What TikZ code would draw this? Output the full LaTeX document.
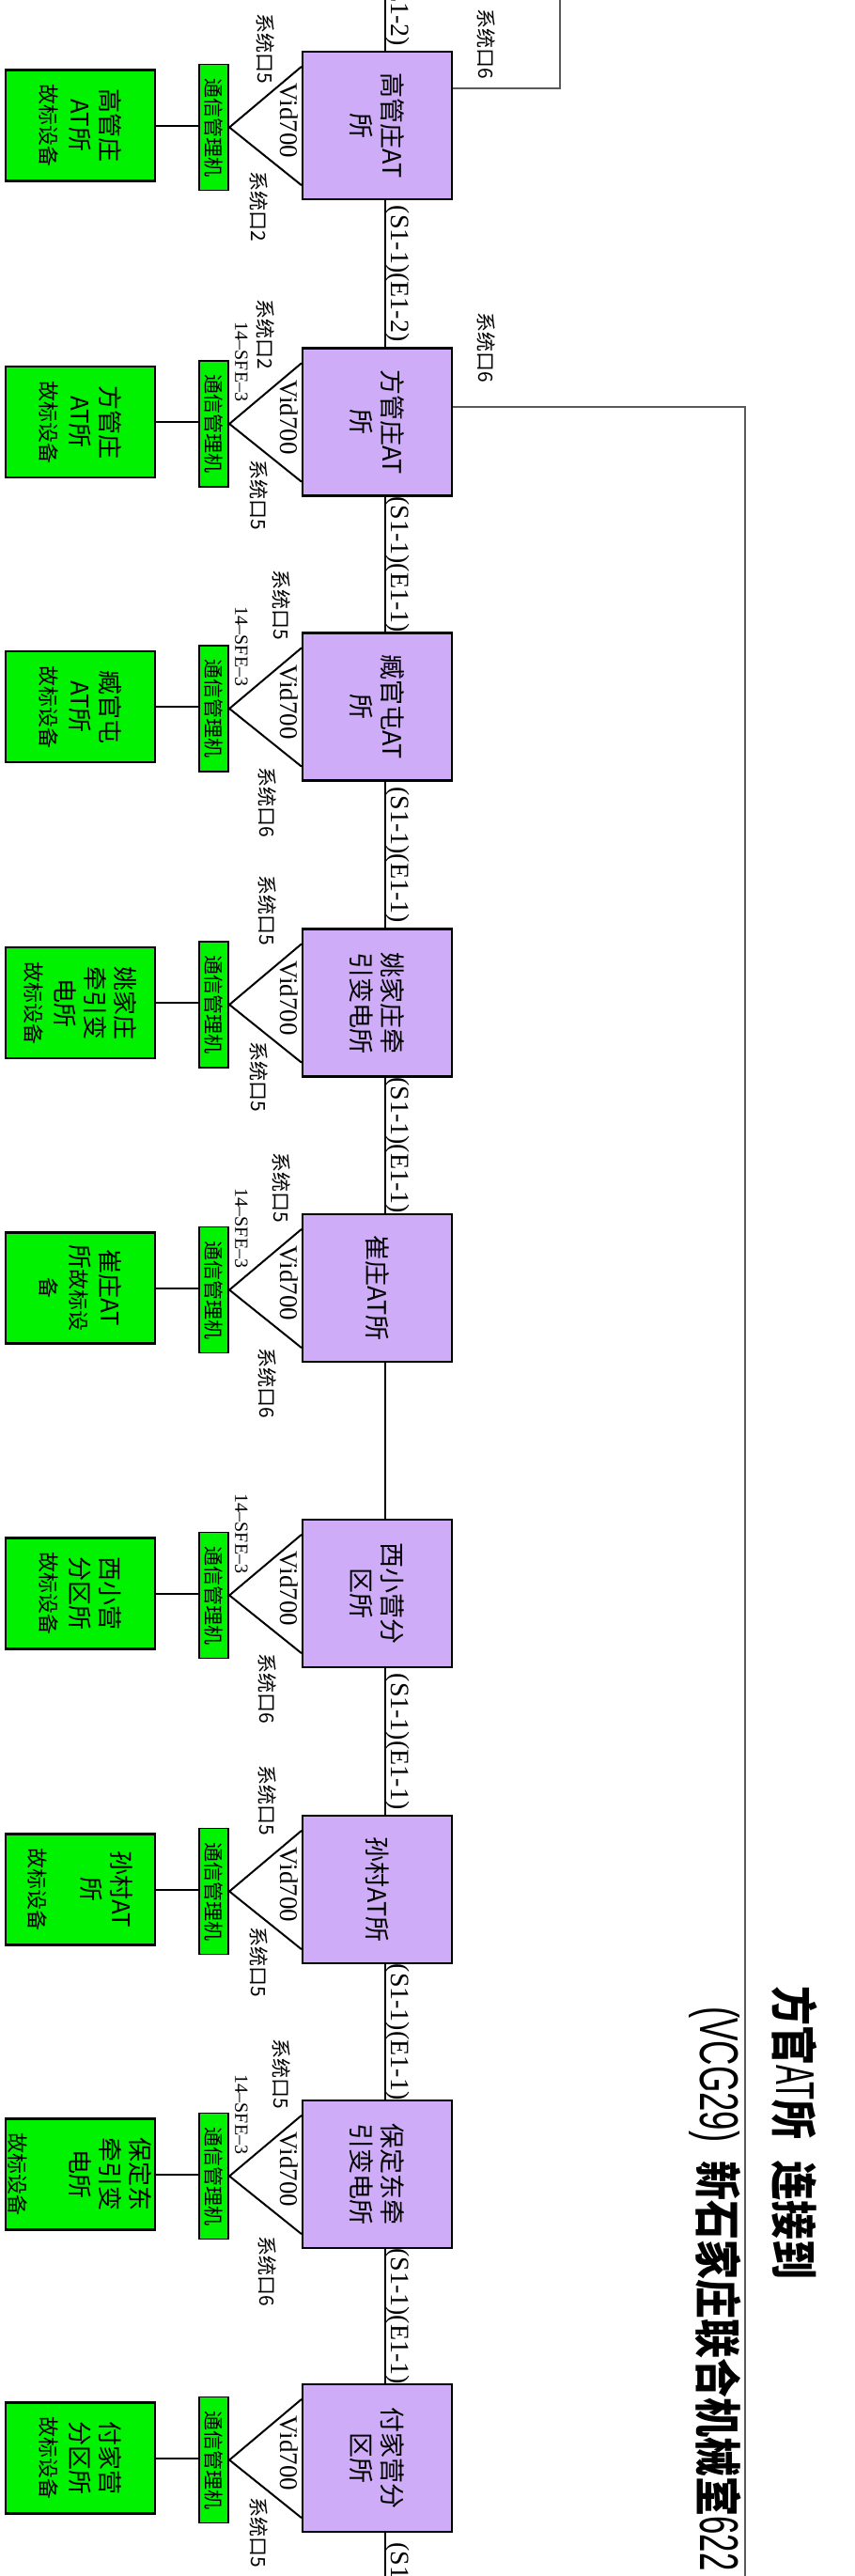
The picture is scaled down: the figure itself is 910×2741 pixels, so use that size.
\documentclass[tikz,border=0pt]{standalone}
\usepackage{fontspec}
\setmainfont{Liberation Serif}
\newfontfamily\cjk{Noto Sans CJK SC}
\newfontfamily\narrowsans{Liberation Sans}
\usetikzlibrary{positioning}

\definecolor{atpurple}{RGB}{207,172,248}
\definecolor{devgreen}{RGB}{0,242,0}
\definecolor{feedgray}{RGB}{90,90,90}
\newcommand\gz{\fontsize{22}{32}\selectfont}
\newcommand\thinlatin{\narrowsans\mdseries\fontsize{58}{58}\selectfont}

\tikzset{
  station/.style={draw, line width=2.2pt, fill=atpurple, rotate=-90, minimum width=157pt,
    minimum height=159pt, inner sep=0pt, align=center, font=\cjk\fontsize{27}{33}\selectfont},
  faultdev/.style={draw, line width=2.2pt, fill=devgreen, rotate=-90, minimum width=118pt,
    minimum height=159pt, inner sep=0pt, align=center, font=\cjk\fontsize{26}{32}\selectfont},
  commgr/.style={draw, line width=1.8pt, fill=devgreen, rotate=-90, minimum width=134pt,
    minimum height=31pt, inner sep=0pt, font=\cjk\fontsize{21}{21}\selectfont},
  port/.style={rotate=-90, inner sep=0pt, font=\cjk\fontsize{21}{21}\selectfont},
  sfe/.style={rotate=-90, inner sep=0pt, font=\fontsize{20}{20}\selectfont},
  vid/.style={rotate=-90, inner sep=0pt, font=\fontsize{27}{27}\selectfont},
  linklabel/.style={rotate=-90, anchor=south, inner sep=0pt, font=\fontsize{28}{28}\selectfont},
  trunk/.style={line width=2pt},
  feeder/.style={line width=1.3pt, draw=feedgray},
  titleline/.style={rotate=-90, anchor=west, inner sep=0pt, font=\cjk\bfseries\fontsize{50}{50}\selectfont},
}

\begin{document}
\begin{tikzpicture}[x=1pt, y=-1pt]
  \useasboundingbox (0,0) rectangle (910,2741);
  \coordinate (trunktop) at (410,-100);
  \coordinate (trunkend) at (410,2860);
  \coordinate (upfeed) at (596,0);
  \coordinate (downfeed) at (793,2741);

  % stations with their fault locators
  \foreach \i/\yc/\st/\dev in {
    1/133.5/{高管庄AT\\所}/{高管庄\\AT所\\\gz 故标设备},
    2/449/{方管庄AT\\所}/{方管庄\\AT所\\\gz 故标设备},
    3/752/{臧官屯AT\\所}/{臧官屯\\AT所\\\gz 故标设备},
    4/1067/{姚家庄牵\\引变电所}/{姚家庄\\牵引变\\电所\\\gz 故标设备},
    5/1370.5/{崔庄AT所}/{崔庄AT\\所{\gz 故标设}\\\gz 备},
    6/1695.5/{西小营分\\区所}/{西小营\\分区所\\\gz 故标设备},
    7/2010.5/{孙村AT所}/{孙村AT\\所\\[24pt]\gz 故标设备},
    8/2313.5/{保定东牵\\引变电所}/{保定东\\牵引变\\电所\\[33pt]\gz 故标设备},
    9/2615.5/{付家营分\\区所}/{付家营\\分区所\\\gz 故标设备}}{
    \node[station] (s\i) at (401.5,\yc) {\st};
    \node[faultdev] (g\i) at (85.5,\yc) {\dev};
    \node[commgr] (m\i) at (227.75,\yc+2) {通信管理机};
    \node[vid] (v\i) at (308,\yc-5) {Vid700};
    \draw[trunk] (g\i.north) -- (g\i.north -| m\i.south);
    \draw[trunk] ([yshift=-17pt]s\i.south west) -- (m\i.north) -- ([yshift=16pt]s\i.south east);
  }

  % trunk line
  \draw[trunk] (trunktop) -- node[linklabel] {(S1-1)(E1-2)} (trunktop |- s1.west);
  \draw[trunk] (trunktop |- s1.east) -- node[linklabel] {(S1-1)(E1-2)} (trunktop |- s2.west);
  \foreach \a/\b in {2/3, 3/4, 4/5, 6/7, 7/8, 8/9}
    \draw[trunk] (trunktop |- s\a.east) -- node[linklabel] {(S1-1)(E1-1)} (trunktop |- s\b.west);
  \draw[trunk] (trunktop |- s5.east) -- (trunktop |- s6.west);
  \draw[trunk] (trunktop |- s9.east) -- node[linklabel] {(S1-1)(E1-1)} (trunkend);

  % links to the right
  \draw[feeder] (s1.north |- 0,94) -| (upfeed);
  \draw[feeder] (s2.north |- 0,433) -| (downfeed);
  \node[port] (f1) at (518,47) {系统口6};
  \node[port] (f2) at (518,370) {系统口6};

  % port labels
  \foreach \n/\px/\py/\txt in {
    1a/283/52/系统口5, 1b/276/220/系统口2,
    2a/283/356/系统口2, 2b/276/527/系统口5,
    3a/300/644/系统口5, 3b/285/854/系统口6,
    4a/285/969/系统口5, 4b/276/1146/系统口5,
    5a/300/1264/系统口5, 5b/285/1472/系统口6,
    6b/285/1797/系统口6,
    7a/285/1916/系统口5, 7b/276/2088/系统口5,
    8a/300/2207/系统口5, 8b/285/2417/系统口6,
    9b/276/2695/系统口5}
    \node[port] (p\n) at (\px,\py) {\txt};
  \foreach \n/\py in {2/385, 3/688, 5/1307, 6/1632, 8/2250}
    \node[sfe] (sfe\n) at (257,\py) {14–SFE–3};

  % title
  \node[titleline] (title1) at (846,2113)
    {\scalebox{0.84}[1]{方官\scalebox{0.64}[1]{\thinlatin AT}所\hspace{27pt}连接到}};
  \node[titleline] (title2) at (761,2135)
    {\scalebox{0.63}[1]{\thinlatin (VCG29)}\hspace{20pt}\scalebox{0.84}[1]{新石家庄联合机械室}\scalebox{0.6}[1]{\thinlatin 622}};
\end{tikzpicture}
\end{document}
